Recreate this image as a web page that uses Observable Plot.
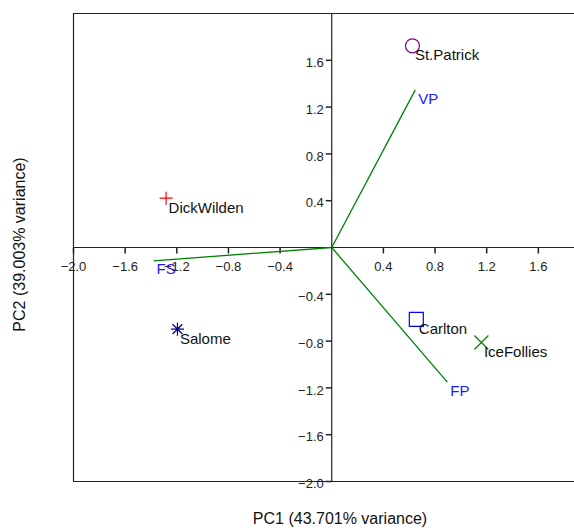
<!DOCTYPE html>
<html>
<head>
<meta charset="utf-8">
<script src="https://cdn.jsdelivr.net/npm/d3@7"></script>
<script src="https://cdn.jsdelivr.net/npm/@observablehq/plot@0.6"></script>
<style>
  html, body { margin: 0; padding: 0; background: #fff; }
  #chart { width: 574px; height: 528px; }
</style>
</head>
<body>
<div id="chart"></div>
<script>
// ---- data ----
const varieties = ["St.Patrick", "DickWilden", "Salome", "Carlton", "IceFollies"];
const pc1 = [0.625, -1.283, -1.195, 0.655, 1.159];
const pc2 = [1.724, 0.422, -0.698, -0.615, -0.812];

const variables = ["VP", "FS", "FP"];
const loadX = [0.647, -1.380, 0.895];
const loadY = [1.347, -0.114, -1.150];

const xTicks = [-2.0, -1.6, -1.2, -0.8, -0.4, 0.4, 0.8, 1.2, 1.6];
const yTicks = [-2.0, -1.6, -1.2, -0.8, -0.4, 0.4, 0.8, 1.2, 1.6];

const xTitle = "PC1 (43.701% variance)";
const yTitle = "PC2 (39.003% variance)";

// ---- styles ----
const rad = s => Math.sqrt(s / Math.PI);
const symPlus = {draw(c, s) { const r = rad(s); c.moveTo(-r, 0); c.lineTo(r, 0); c.moveTo(0, -r); c.lineTo(0, r); }};
const symTimes = {draw(c, s) { const r = rad(s); c.moveTo(-r, -r); c.lineTo(r, r); c.moveTo(-r, r); c.lineTo(r, -r); }};
const symAst = {draw(c, s) { const r = rad(s); const a = r * 0.75;
  c.moveTo(0, -r); c.lineTo(0, r); c.moveTo(-a, -a); c.lineTo(a, a); c.moveTo(-a, a); c.lineTo(a, -a); c.moveTo(-r, 0); c.lineTo(r, 0); }};
const symCircle = {draw(c, s) { const r = rad(s); c.moveTo(r, 0); c.arc(0, 0, r, 0, 2 * Math.PI); }};
const symSquare = {draw(c, s) { const r = rad(s); c.rect(-r, -r, 2 * r, 2 * r); }};
const tickDown = {draw(c) { c.moveTo(0, 0); c.lineTo(0, 6); }};
const tickLeft = {draw(c) { c.moveTo(0, 0); c.lineTo(-6, 0); }};

const pointStyle = {
  "St.Patrick": {symbol: symCircle, color: "#800080", r: 7},
  "DickWilden": {symbol: symPlus, color: "#ff0000", r: 6.5},
  "Salome": {symbol: symAst, color: "#000080", r: 6.5},
  "Carlton": {symbol: symSquare, color: "#0000ff", r: 7},
  "IceFollies": {symbol: symTimes, color: "#008000", r: 7}
};

const points = varieties.map((name, i) => ({name, x: pc1[i], y: pc2[i]}));
const vectors = variables.map((name, i) => ({name, x: loadX[i], y: loadY[i]}));
const fmt = d3.format(".1f");

const pointMarks = points.map(p => Plot.dot([p], {
  x: "x", y: "y", symbol: pointStyle[p.name].symbol, r: pointStyle[p.name].r,
  stroke: pointStyle[p.name].color, fill: "none", strokeWidth: 1.2
}));

const chart = Plot.plot({
  width: 574,
  height: 528,
  marginLeft: 73,
  marginRight: 0,
  marginTop: 13,
  marginBottom: 47,
  x: {domain: [-2, 1.88], axis: null},
  y: {domain: [-2, 2], axis: null},
  style: {fontFamily: "'Liberation Sans', Arial, sans-serif", fontSize: "13px", background: "#fff", color: "#000"},
  marks: [
    // frame (top, bottom, left)
    Plot.ruleY([-2, 2], {stroke: "#222", strokeWidth: 1.2}),
    Plot.ruleX([-2], {stroke: "#222", strokeWidth: 1.2}),
    // axes through origin
    Plot.ruleY([0], {stroke: "#222", strokeWidth: 1.2}),
    Plot.ruleX([0], {stroke: "#222", strokeWidth: 1.2}),
    // ticks
    Plot.dot(xTicks, {x: d => d, y: 0, symbol: tickDown, stroke: "#222", fill: "none"}),
    Plot.dot(yTicks, {x: 0, y: d => d, symbol: tickLeft, stroke: "#222", fill: "none"}),
    Plot.text(xTicks, {x: d => d, y: 0, text: d => fmt(d), lineAnchor: "top", dy: 14, fill: "#222", fontSize: 13}),
    Plot.text(yTicks, {x: 0, y: d => d, text: d => fmt(d), textAnchor: "end", dx: -8, dy: 2.5, fill: "#222", fontSize: 13}),
    // loading vectors
    Plot.link(vectors, {x1: 0, y1: 0, x2: "x", y2: "y", stroke: "#008000", strokeWidth: 1.3}),
    Plot.text(vectors, {x: "x", y: "y", text: "name", textAnchor: "start", lineAnchor: "top", dx: 3, dy: 3, fill: "#1a1aff", fontSize: 15}),
    // points
    ...pointMarks,
    Plot.text(points, {x: "x", y: "y", text: "name", textAnchor: "start", lineAnchor: "top", dx: 2.5, dy: 4, fill: "#111", fontSize: 15}),
    // axis titles
    Plot.text([xTitle], {frameAnchor: "bottom", text: d => d, textAnchor: "middle", dx: 16, dy: 31, lineAnchor: "top", fontSize: 16, fill: "#111"}),
    Plot.text([yTitle], {frameAnchor: "left", text: d => d, textAnchor: "middle", rotate: -90, dx: -54, dy: -3, fontSize: 16, fill: "#111"})
  ]
});
document.getElementById("chart").appendChild(chart);
</script>
</body>
</html>
